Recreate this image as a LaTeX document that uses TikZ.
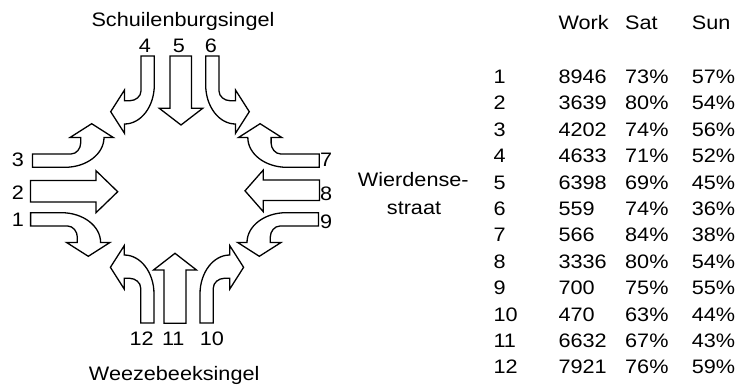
\documentclass[tikz,border=0pt]{standalone}
\usepackage{fontspec}
\setmainfont{Liberation Sans}[FakeStretch=1.11]

% One turning lane arrow in local pixel coordinates (y downwards):
% the shaft enters at the top (x from 0 to 13.3) and bends to the left.
% #1 = extra shaft length above the entry line.
\newcommand{\turnlane}[1]{%
  \draw[lane] (0,-#1) -- (0,35)
    .. controls (0,40.5) and (-5.5,44.7) .. (-11,44.7)
    -- (-16.5,44.7) -- (-16.5,34) -- (-30.3,55.7) -- (-16.5,77.3)
    -- (-16.5,68)
    .. controls (0,68) and (13.3,50.5) .. (13.3,29)
    -- (13.3,-#1) -- cycle;}

\begin{document}
\begin{tikzpicture}[x=1pt,y=-1pt,
  lane/.style={draw=black, line width=1.3pt, fill=white, line join=miter},
  lbl/.style={font=\fontsize{19.5}{23}\selectfont, inner sep=0pt, anchor=base, text=black},
  cell/.style={lbl, anchor=base west}]
\useasboundingbox (0,0) rectangle (737,389);
\fill[white] (0,0) rectangle (737,389);

% straight-on lanes
\draw[lane] (170,56) -- (170,108.3) -- (159.3,108.3) -- (181,125)
  -- (202.7,108.3) -- (191.5,108.3) -- (191.5,56) -- cycle;          % 5
\draw[lane] (164,323.3) -- (164,270) -- (153.5,270) -- (175,253.3)
  -- (196.5,270) -- (186,270) -- (186,323.3) -- cycle;               % 11
\draw[lane] (30.5,180.5) -- (96,180.5) -- (96,170.7) -- (117.7,191.7)
  -- (96,212.7) -- (96,202) -- (30.5,202) -- cycle;                  % 2
\draw[lane] (319.5,180) -- (263.3,180) -- (263.3,170) -- (245,190.8)
  -- (263.3,211.7) -- (263.3,200.5) -- (319.5,200.5) -- cycle;       % 8

% turning lanes
\begin{scope}[shift={(141,56)}] \turnlane{0} \end{scope}                   % 4
\begin{scope}[shift={(219,56)},xscale=-1] \turnlane{0} \end{scope}         % 6
\begin{scope}[shift={(140.7,323)},yscale=-1] \turnlane{0} \end{scope}      % 12
\begin{scope}[shift={(213.3,323)},xscale=-1,yscale=-1] \turnlane{0} \end{scope} % 10
\begin{scope}[cm={0,-1,-1,0,(36,154)}] \turnlane{3.5} \end{scope}          % 3
\begin{scope}[shift={(32.6,226)},rotate=90] \turnlane{2} \end{scope}       % 1
\begin{scope}[shift={(315.8,154)},rotate=-90] \turnlane{3.5} \end{scope}   % 7
\begin{scope}[cm={0,1,1,0,(315,226)}] \turnlane{3.5} \end{scope}           % 9

% street names
\node[lbl] (north) at (183,26) {Schuilenburgsingel};
\node[lbl] (south) at (174.2,380) {Weezebeeksingel};
\node[lbl] (east1) at (413.3,186.7) {Wierdense-};
\node[lbl] (east2) at (414,214) {straat};

% lane numbers
\node[lbl] (n4) at (145,52) {4};
\node[lbl] (n5) at (179,52) {5};
\node[lbl] (n6) at (211,52) {6};
\node[lbl] (n3) at (18,166.7) {3};
\node[lbl] (n2) at (18,199.3) {2};
\node[lbl] (n1) at (18,226) {1};
\node[cell] (n7) at (320,166.7) {7};
\node[cell] (n8) at (320,200.7) {8};
\node[cell] (n9) at (320,228) {9};
\node[lbl] (n12) at (141.7,345) {12};
\node[lbl] (n11) at (173.3,345) {11};
\node[lbl] (n10) at (212,345) {10};

% counts table
\node[cell] (hwork) at (558.3,29.3) {Work};
\node[cell] (hsat) at (625,29.3) {Sat};
\node[cell] (hsun) at (691.7,29.3) {Sun};
\foreach \lane/\work/\sat/\sun [count=\k from 0] in {
  1/8946/73/57, 2/3639/80/54, 3/4202/74/56, 4/4633/71/52,
  5/6398/69/45, 6/559/74/36, 7/566/84/38, 8/3336/80/54,
  9/700/75/55, 10/470/63/44, 11/6632/67/43, 12/7921/76/59} {
  \node[cell] (t\lane a) at (493.3,83.5+26.4*\k) {\lane};
  \node[cell] (t\lane b) at (558.3,83.5+26.4*\k) {\work};
  \node[cell] (t\lane c) at (625,83.5+26.4*\k) {\sat\%};
  \node[cell] (t\lane d) at (691.7,83.5+26.4*\k) {\sun\%};
}
\end{tikzpicture}
\end{document}
